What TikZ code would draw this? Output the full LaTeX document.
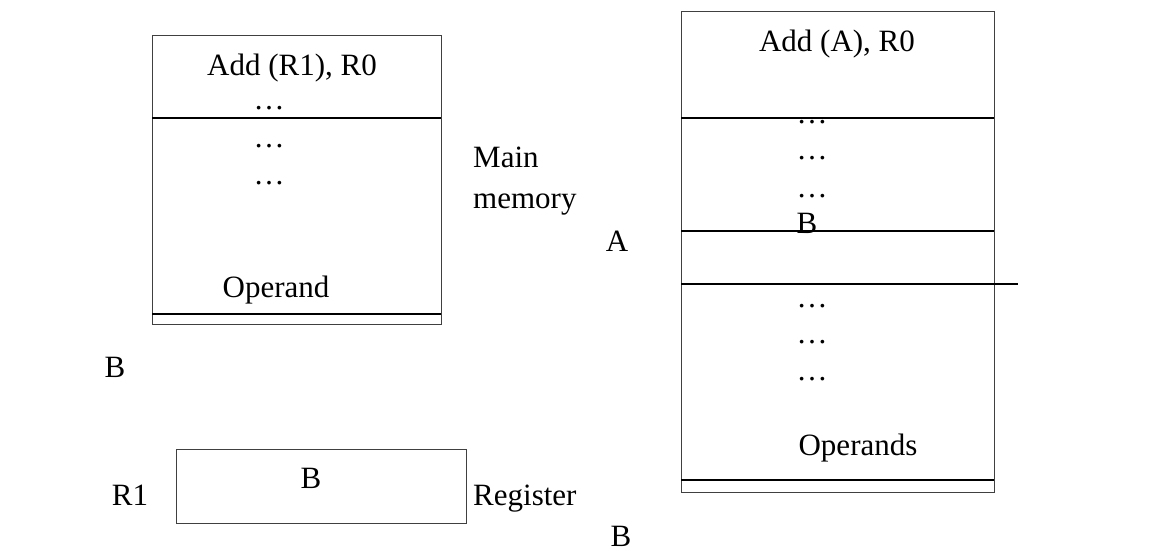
\documentclass[tikz,border=0pt]{standalone}
\usepackage{fontspec}
\setmainfont{Liberation Serif}
\begin{document}
\begin{tikzpicture}[x=1pt,y=-1pt,
  txt/.style={inner sep=0pt,anchor=base,font=\fontsize{31}{37}\selectfont},
  frame/.style={draw=black!75,line width=1pt},
  sep/.style={draw=black,line width=1.6pt}]
\useasboundingbox[fill=white] (0,0) rectangle (1156,550);
% left memory box
\draw[frame] (152,35) rectangle (441,324);
\coordinate (l1a) at (152,118); \coordinate (l1b) at (441,118);
\coordinate (l2a) at (152,314); \coordinate (l2b) at (441,314);
\draw[sep] (l1a) -- (l1b);
\draw[sep] (l2a) -- (l2b);
\node[txt] (addr1) at (292,75) {Add (R1), R0};
\node[txt] (ld1) at (269,109) {…};
\node[txt] (ld2) at (269,147) {…};
\node[txt] (ld3) at (269,184) {…};
\node[txt] (operand) at (276,297) {Operand};
\node[txt,anchor=base west] (main) at (473,167) {Main};
\node[txt,anchor=base west] (memory) at (473,208) {memory};
\node[txt] (bl) at (115,377) {B};
% register
\draw[frame] (176,449) rectangle (466,523);
\node[txt] (regb) at (311,488) {B};
\node[txt] (r1) at (130,505) {R1};
\node[txt,anchor=base west] (register) at (473,505) {Register};
% right memory box
\draw[frame] (681,11) rectangle (994,492);
\coordinate (r1a) at (681,118); \coordinate (r1b) at (994,118);
\coordinate (r2a) at (681,231); \coordinate (r2b) at (994,231);
\coordinate (r3a) at (681,284); \coordinate (r3b) at (1018,284);
\coordinate (r4a) at (681,480); \coordinate (r4b) at (994,480);
\draw[sep] (r1a) -- (r1b);
\draw[sep] (r2a) -- (r2b);
\draw[sep] (r3a) -- (r3b);
\draw[sep] (r4a) -- (r4b);
\node[txt] (adda) at (837,51) {Add (A), R0};
\node[txt] (rd1) at (812,123) {…};
\node[txt] (rd2) at (812,159) {…};
\node[txt] (rd3) at (812,197) {…};
\node[txt] (rb) at (807,233) {B};
\node[txt] (rd4) at (812,307) {…};
\node[txt] (rd5) at (812,343) {…};
\node[txt] (rd6) at (812,380) {…};
\node[txt] (operands) at (858,455) {Operands};
\node[txt] (a) at (617,251) {A};
\node[txt] (bb) at (621,546) {B};
\end{tikzpicture}
\end{document}
